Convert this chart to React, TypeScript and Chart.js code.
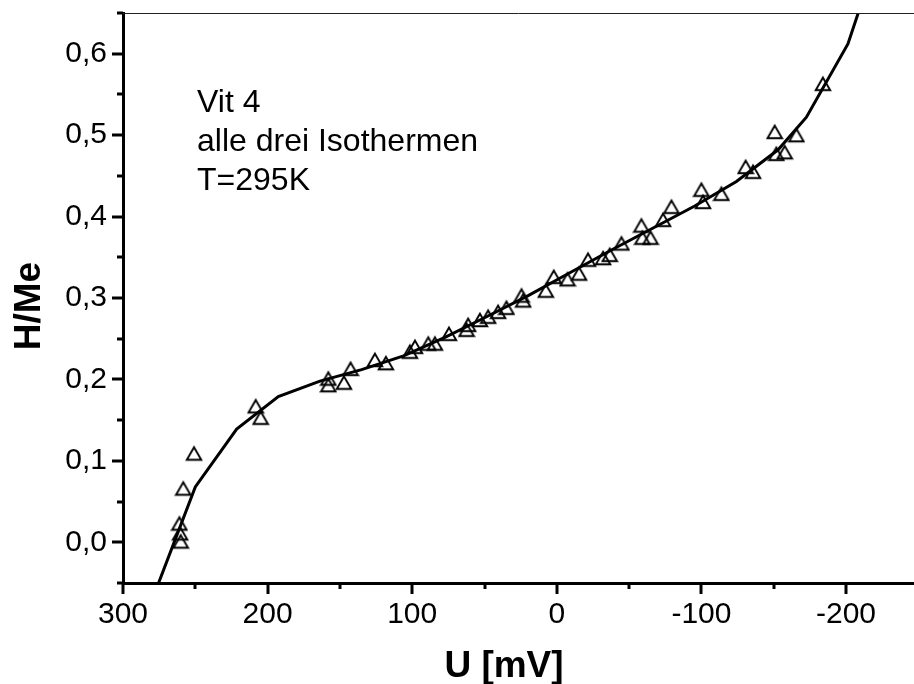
import React, { useEffect, useRef } from "react";
import { Chart, registerables } from "chart.js";

Chart.register(...registerables);

// ---- data ----
const pointU = [
  260.1, 260.5, 261.0, 258.3, 250.9, 208.2, 204.8, 158.0, 158.0, 147.2,
  142.6, 125.8, 118.2, 101.6, 98.1, 88.9, 84.3, 74.6, 61.3, 62.4,
  53.2, 47.5, 40.6, 34.8, 24.4, 23.3, 7.6, 2.1, -7.4, -15.4,
  -21.6, -32.0, -36.6, -44.7, -58.5, -59.2, -64.8, -73.5, -79.3, -100.0,
  -101.1, -113.8, -130.6, -135.7, -150.7, -151.8, -157.6, -165.7, -184.0,
];
const pointH = [
  0.001, 0.011, 0.023, 0.066, 0.109, 0.167, 0.153, 0.201, 0.193, 0.196,
  0.213, 0.224, 0.22, 0.234, 0.24, 0.244, 0.244, 0.256, 0.267, 0.261,
  0.273, 0.277, 0.283, 0.288, 0.303, 0.297, 0.309, 0.326, 0.323, 0.33,
  0.347, 0.349, 0.353, 0.367, 0.389, 0.374, 0.374, 0.396, 0.412, 0.433,
  0.418, 0.428, 0.461, 0.455, 0.504, 0.477, 0.479, 0.5, 0.563,
];
const curveU = [
  284, 250, 221.4, 192.6, 163.8, 135, 106, 77, 48.6, 19.8, -9, -37.8,
  -66.6, -95.4, -124.2, -153, -172.6, -201.3, -215,
];
const curveH = [
  -0.09, 0.068, 0.139, 0.179, 0.198, 0.212, 0.229, 0.252, 0.277, 0.303,
  0.331, 0.359, 0.386, 0.413, 0.443, 0.482, 0.522, 0.612, 0.685,
];
const xMajorTicks = [300, 200, 100, 0, -100, -200];
const xMinorTicks = [250, 150, 50, -50, -150];
const yMajorTicks = [0, 0.1, 0.2, 0.3, 0.4, 0.5, 0.6];
const yMinorTicks = [-0.05, 0.05, 0.15, 0.25, 0.35, 0.45, 0.55, 0.65];
const xMin = -247;
const xMax = 300;
const yMin = -0.05;
const yMax = 0.65;
const annotationLines = ["Vit 4", "alle drei Isothermen", "T=295K"];
const xTitle = "U [mV]";
const yTitle = "H/Me";

const W = 914;
const H = 684;
const FONT = '"Liberation Sans", Arial, Helvetica, sans-serif';

// hollow triangle marker, centred on its bounding box
function makeTriangle(): HTMLCanvasElement {
  const c = document.createElement("canvas");
  const s = 18;
  c.width = s;
  c.height = s;
  const g = c.getContext("2d")!;
  const w = 14.5;
  const h = 12.6;
  const cx = s / 2;
  const cy = s / 2;
  g.strokeStyle = "#000";
  g.lineWidth = 1.9;
  g.lineJoin = "miter";
  g.beginPath();
  g.moveTo(cx, cy - h / 2);
  g.lineTo(cx + w / 2, cy + h / 2);
  g.lineTo(cx - w / 2, cy + h / 2);
  g.closePath();
  g.stroke();
  return c;
}

const decorPlugin = {
  id: "decor",
  afterDraw(chart: any) {
    const { ctx, chartArea: a } = chart;
    const x = chart.scales.x;
    const y = chart.scales.y;
    ctx.save();
    // tick marks
    ctx.strokeStyle = "#000";
    ctx.lineWidth = 3;
    ctx.lineCap = "butt";
    ctx.beginPath();
    for (const v of xMajorTicks) {
      const px = Math.round(x.getPixelForValue(v));
      ctx.moveTo(px, a.bottom);
      ctx.lineTo(px, a.bottom + 11);
    }
    for (const v of xMinorTicks) {
      const px = Math.round(x.getPixelForValue(v));
      ctx.moveTo(px, a.bottom);
      ctx.lineTo(px, a.bottom + 6);
    }
    for (const v of yMajorTicks) {
      const py = Math.round(y.getPixelForValue(v));
      ctx.moveTo(a.left, py);
      ctx.lineTo(a.left - 11, py);
    }
    for (const v of yMinorTicks) {
      const py = Math.round(y.getPixelForValue(v));
      ctx.moveTo(a.left, py);
      ctx.lineTo(a.left - 6, py);
    }
    ctx.stroke();
    // thin top frame line
    ctx.lineWidth = 1;
    ctx.strokeStyle = "#222";
    ctx.beginPath();
    ctx.moveTo(a.left, a.top + 0.5);
    ctx.lineTo(a.right, a.top + 0.5);
    ctx.stroke();
    // axis titles
    ctx.fillStyle = "#000";
    ctx.font = `bold 37px ${FONT}`;
    ctx.textAlign = "center";
    ctx.textBaseline = "alphabetic";
    ctx.fillText(xTitle, 504, 677);
    ctx.save();
    ctx.translate(40, 306);
    ctx.rotate(-Math.PI / 2);
    ctx.fillText(yTitle, 0, 0);
    ctx.restore();
    // annotation
    ctx.font = `32px ${FONT}`;
    ctx.textAlign = "left";
    const baselines = [112, 151, 190];
    annotationLines.forEach((t, i) => ctx.fillText(t, a.left + 74, baselines[i]));
    ctx.restore();
  },
};

export default function App() {
  const ref = useRef<HTMLCanvasElement | null>(null);
  useEffect(() => {
    document.body.style.margin = "0";
    const canvas = ref.current!;
    const tri = makeTriangle();
    const chart = new Chart(canvas, {
      type: "scatter",
      data: {
        datasets: [
          {
            type: "scatter",
            data: pointU.map((u, i) => ({ x: u, y: pointH[i] })),
            pointStyle: tri as any,
            pointRadius: 9,
            order: 2,
          },
          {
            type: "line",
            data: curveU.map((u, i) => ({ x: u, y: curveH[i] })),
            borderColor: "#000",
            borderWidth: 3,
            pointRadius: 0,
            fill: false,
            tension: 0,
            order: 1,
          } as any,
        ],
      },
      options: {
        animation: false,
        responsive: false,
        devicePixelRatio: 1,
        layout: { autoPadding: false, padding: { top: 13, right: 0, left: 0, bottom: 0 } },
        plugins: {
          legend: { display: false },
          tooltip: { enabled: false },
          title: { display: false },
        },
        scales: {
          x: {
            type: "linear",
            reverse: true,
            min: xMin,
            max: xMax,
            grid: { display: false, drawTicks: false },
            border: { display: true, width: 3, color: "#000" },
            ticks: {
              color: "#000",
              font: { family: FONT, size: 30 },
              padding: 14,
              maxRotation: 0,
              autoSkip: false,
              callback: (v: any) => String(v),
            },
            afterBuildTicks: (s: any) => {
              s.ticks = xMajorTicks.map((v) => ({ value: v }));
            },
            afterFit: (s: any) => {
              s.height = 101;
              s.paddingLeft = 0;
              s.paddingRight = 0;
            },
          },
          y: {
            type: "linear",
            min: yMin,
            max: yMax,
            grid: { display: false, drawTicks: false },
            border: { display: true, width: 3, color: "#000" },
            ticks: {
              color: "#000",
              font: { family: FONT, size: 30 },
              padding: 16,
              autoSkip: false,
              callback: (v: any) => Number(v).toFixed(1).replace(".", ","),
            },
            afterBuildTicks: (s: any) => {
              s.ticks = yMajorTicks.map((v) => ({ value: v }));
            },
            afterFit: (s: any) => {
              s.width = 123;
              s.paddingTop = 0;
              s.paddingBottom = 0;
            },
          },
        },
      },
      plugins: [decorPlugin],
    });
    return () => chart.destroy();
  }, []);
  return (
    <div style={{ width: W, height: H, background: "#fff" }}>
      <canvas ref={ref} width={W} height={H} style={{ display: "block" }} />
    </div>
  );
}
